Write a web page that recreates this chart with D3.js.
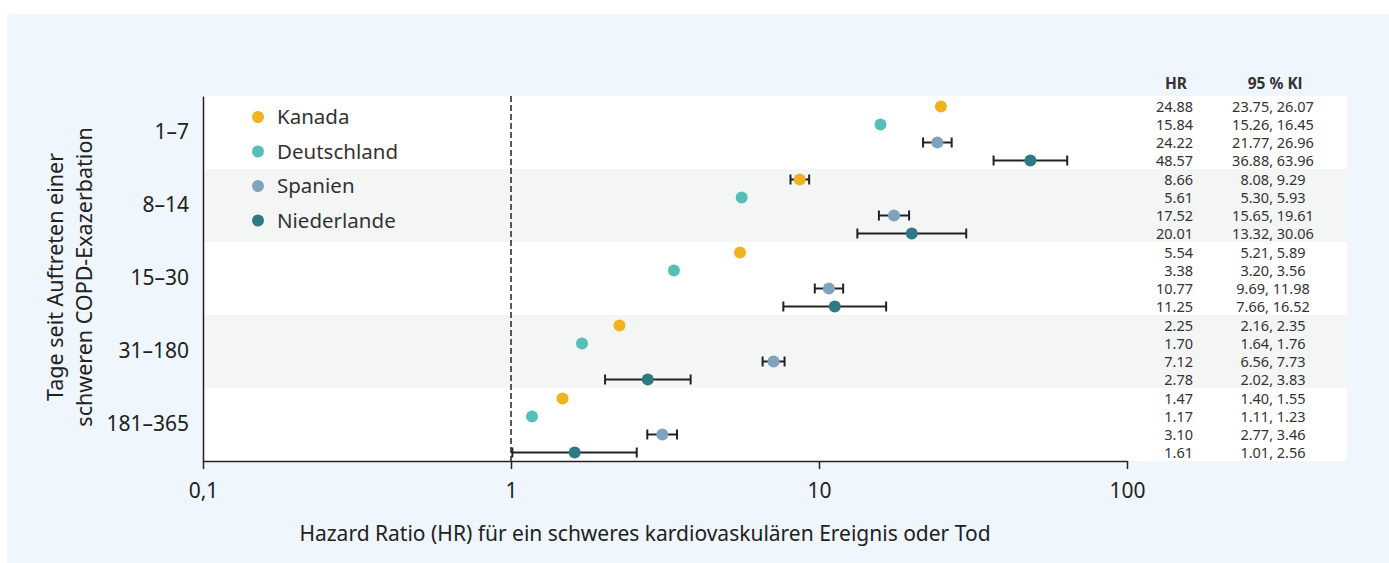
<!DOCTYPE html>
<html>
<head>
<meta charset="utf-8">
<script src="https://cdn.jsdelivr.net/npm/d3@7"></script>
<style>
  body { margin: 0; background: #fff; }
  svg { display: block; font-family: "Noto Sans", "Open Sans", sans-serif; }
</style>
</head>
<body>
<svg id="chart" width="1389" height="563"></svg>
<script>
// data
var groups = ["1–7", "8–14", "15–30", "31–180", "181–365"];
var countries = ["Kanada", "Deutschland", "Spanien", "Niederlande"];
var colors = ["#f0b21e", "#55bfb8", "#7fa3bd", "#2e7a84"];

// HR per group, in the order of countries
var hr = [
  [24.88, 15.84, 24.22, 48.57],
  [8.66, 5.61, 17.52, 20.01],
  [5.54, 3.38, 10.77, 11.25],
  [2.25, 1.70, 7.12, 2.78],
  [1.47, 1.17, 3.10, 1.61]
];
var ciLow = [
  [23.75, 15.26, 21.77, 36.88],
  [8.08, 5.30, 15.65, 13.32],
  [5.21, 3.20, 9.69, 7.66],
  [2.16, 1.64, 6.56, 2.02],
  [1.40, 1.11, 2.77, 1.01]
];
var ciHigh = [
  [26.07, 16.45, 26.96, 63.96],
  [9.29, 5.93, 19.61, 30.06],
  [5.89, 3.56, 11.98, 16.52],
  [2.35, 1.76, 7.73, 3.83],
  [1.55, 1.23, 3.46, 2.56]
];
var xTicks = [0.1, 1, 10, 100];
var xTickLabels = ["0,1", "1", "10", "100"];

var svg = d3.select("#chart");
var plotLeft = 203, plotRight = 1127, plotTop = 96, plotBottom = 461;

// panel background
svg.append("rect").attr("x", 7).attr("y", 14).attr("width", 1382).attr("height", 549).attr("fill", "#eff6fd");

var x = d3.scaleLog().domain([0.1, 100]).range([plotLeft, plotRight]);
var yG = d3.scaleBand().domain(groups).range([plotTop, plotBottom]);
var yI = d3.scaleBand().domain(countries).range([1.5, yG.bandwidth() + 0.5]);

// bands
svg.append("g").selectAll("rect").data(groups).join("rect")
  .attr("x", plotLeft).attr("y", function(d) { return yG(d); })
  .attr("width", 1347 - plotLeft).attr("height", yG.bandwidth())
  .attr("fill", function(d, i) { return i % 2 ? "#f4f6f5" : "#ffffff"; });

// reference line at HR = 1
svg.append("line").attr("x1", x(1)).attr("x2", x(1)).attr("y1", plotTop).attr("y2", plotBottom)
  .attr("stroke", "#222").attr("stroke-width", 1.5).attr("stroke-dasharray", "6,3");

// rows
var rows = [];
groups.forEach(function(g, gi) {
  countries.forEach(function(c, ci) {
    rows.push({g: g, c: c, ci: ci, hr: hr[gi][ci], lo: ciLow[gi][ci], hi: ciHigh[gi][ci],
      y: yG(g) + yI(c) + yI.bandwidth() / 2});
  });
});

// confidence intervals, only where wider than the dot
var wide = rows.filter(function(d) { return d.hi / d.lo > 1.14; });
var eb = svg.append("g").attr("stroke", "#222").attr("stroke-width", 2);
eb.selectAll(".w").data(wide).join("line")
  .attr("x1", function(d) { return x(d.lo); }).attr("x2", function(d) { return x(d.hi); })
  .attr("y1", function(d) { return d.y; }).attr("y2", function(d) { return d.y; });
eb.selectAll(".cl").data(wide).join("line")
  .attr("x1", function(d) { return x(d.lo); }).attr("x2", function(d) { return x(d.lo); })
  .attr("y1", function(d) { return d.y - 5; }).attr("y2", function(d) { return d.y + 5; });
eb.selectAll(".ch").data(wide).join("line")
  .attr("x1", function(d) { return x(d.hi); }).attr("x2", function(d) { return x(d.hi); })
  .attr("y1", function(d) { return d.y - 5; }).attr("y2", function(d) { return d.y + 5; });

svg.append("g").selectAll("circle").data(rows).join("circle")
  .attr("cx", function(d) { return x(d.hr); }).attr("cy", function(d) { return d.y; })
  .attr("r", 6).attr("fill", function(d) { return colors[d.ci]; });

// table
var tbl = svg.append("g").attr("font-size", 14.5).attr("fill", "#333");
tbl.selectAll(".hr").data(rows).join("text")
  .attr("x", 1193).attr("y", function(d) { return d.y; }).attr("dy", "0.35em")
  .attr("text-anchor", "end").text(function(d) { return d.hr.toFixed(2); });
tbl.selectAll(".ci").data(rows).join("text")
  .attr("x", 1273).attr("y", function(d) { return d.y; }).attr("dy", "0.35em")
  .attr("text-anchor", "middle").text(function(d) { return d.lo.toFixed(2) + ", " + d.hi.toFixed(2); });
tbl.append("text").attr("x", 1176).attr("y", 84).attr("dy", "0.35em").attr("text-anchor", "middle")
  .attr("font-size", 15.5).attr("font-weight", "bold").text("HR");
tbl.append("text").attr("x", 1275).attr("y", 84).attr("dy", "0.35em").attr("text-anchor", "middle")
  .attr("font-size", 15.5).attr("font-weight", "bold").text("95 % Kl");

// axes
var xAxis = svg.append("g").attr("transform", "translate(0," + plotBottom + ")")
  .call(d3.axisBottom(x).tickValues(xTicks).tickFormat(function(d, i) { return xTickLabels[i]; }).tickSize(8).tickSizeOuter(0).tickPadding(14));
xAxis.select(".domain").attr("stroke", "#222").attr("stroke-width", 1.5);
xAxis.selectAll(".tick line").attr("stroke", "#222").attr("stroke-width", 1.5);
xAxis.selectAll("text").attr("font-size", 21).attr("fill", "#222").attr("font-family", "Noto Sans");

var yAxis = svg.append("g").attr("transform", "translate(" + plotLeft + ",0)")
  .call(d3.axisLeft(yG).tickSize(0).tickPadding(14));
yAxis.select(".domain").attr("stroke", "#222").attr("stroke-width", 1.5);
yAxis.selectAll("text").attr("font-size", 21).attr("fill", "#222").attr("font-family", "Noto Sans");

// axis titles
svg.append("text").attr("x", 645).attr("y", 534).attr("dy", "0.35em").attr("text-anchor", "middle")
  .attr("font-size", 21).attr("fill", "#222").text("Hazard Ratio (HR) für ein schweres kardiovaskulären Ereignis oder Tod");
var yt = svg.append("text").attr("transform", "translate(55,277) rotate(-90)").attr("text-anchor", "middle")
  .attr("font-size", 21.5).attr("fill", "#222");
yt.append("tspan").attr("x", 0).attr("dy", "0.35em").text("Tage seit Auftreten einer");
yt.append("tspan").attr("x", 0).attr("dy", "1.38em").text("schweren COPD-Exazerbation");

// legend
var lg = svg.append("g").selectAll("g").data(countries).join("g")
  .attr("transform", function(d, i) { return "translate(258," + (117 + i * 34.5) + ")"; });
lg.append("circle").attr("r", 6).attr("fill", function(d, i) { return colors[i]; });
lg.append("text").attr("x", 19).attr("dy", "0.35em").attr("font-size", 20.5).attr("fill", "#333")
  .text(function(d) { return d; });
</script>
</body>
</html>
